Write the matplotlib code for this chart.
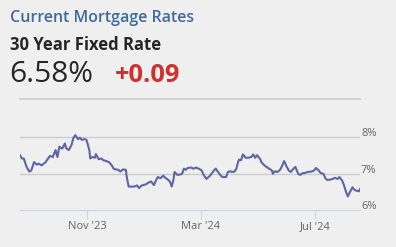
import pandas as pd
import matplotlib.pyplot as plt
from matplotlib import transforms

plt.rcParams['font.family'] = ['Open Sans', 'DejaVu Sans']

# Daily-ish readings of the 30 year fixed rate
dates = [
    '2023-08-21', '2023-08-23', '2023-08-25', '2023-08-28', '2023-08-31', '2023-09-02',
    '2023-09-05', '2023-09-08', '2023-09-10', '2023-09-13', '2023-09-17', '2023-09-20',
    '2023-09-22', '2023-09-25', '2023-09-28', '2023-09-30', '2023-10-02', '2023-10-05',
    '2023-10-08', '2023-10-09', '2023-10-12', '2023-10-15', '2023-10-17', '2023-10-19',
    '2023-10-22', '2023-10-24', '2023-10-26', '2023-10-29', '2023-10-31', '2023-11-03',
    '2023-11-04', '2023-11-06', '2023-11-09', '2023-11-10', '2023-11-13', '2023-11-16',
    '2023-11-18', '2023-11-21', '2023-11-24', '2023-11-27', '2023-11-29', '2023-12-01',
    '2023-12-04', '2023-12-06', '2023-12-09', '2023-12-12', '2023-12-13', '2023-12-15',
    '2023-12-17', '2023-12-21', '2023-12-24', '2023-12-26', '2023-12-29', '2024-01-01',
    '2024-01-03', '2024-01-06', '2024-01-08', '2024-01-11', '2024-01-13', '2024-01-15',
    '2024-01-18', '2024-01-21', '2024-01-23', '2024-01-26', '2024-01-28', '2024-01-30',
    '2024-02-01', '2024-02-02', '2024-02-05', '2024-02-08', '2024-02-10', '2024-02-12',
    '2024-02-14', '2024-02-16', '2024-02-20', '2024-02-22', '2024-02-25', '2024-02-28',
    '2024-03-02', '2024-03-04', '2024-03-07', '2024-03-11', '2024-03-15', '2024-03-17',
    '2024-03-20', '2024-03-23', '2024-03-25', '2024-03-28', '2024-03-30', '2024-04-02',
    '2024-04-03', '2024-04-06', '2024-04-08', '2024-04-10', '2024-04-11', '2024-04-13',
    '2024-04-15', '2024-04-18', '2024-04-21', '2024-04-24', '2024-04-26', '2024-04-28',
    '2024-04-30', '2024-05-03', '2024-05-05', '2024-05-08', '2024-05-10', '2024-05-13',
    '2024-05-16', '2024-05-17', '2024-05-19', '2024-05-22', '2024-05-25', '2024-05-27',
    '2024-05-29', '2024-05-31', '2024-06-03', '2024-06-05', '2024-06-08', '2024-06-10',
    '2024-06-13', '2024-06-15', '2024-06-18', '2024-06-20', '2024-06-23', '2024-06-27',
    '2024-06-30', '2024-07-02', '2024-07-05', '2024-07-07', '2024-07-10', '2024-07-12',
    '2024-07-14', '2024-07-17', '2024-07-20', '2024-07-22', '2024-07-25', '2024-07-27',
    '2024-07-30', '2024-08-01', '2024-08-03', '2024-08-05', '2024-08-07', '2024-08-09',
    '2024-08-10', '2024-08-12', '2024-08-14', '2024-08-17', '2024-08-18',
]
rates = [
    7.51, 7.42, 7.42, 7.19, 7.06, 7.09,
    7.32, 7.25, 7.28, 7.23, 7.31, 7.42,
    7.49, 7.46, 7.65, 7.46, 7.74, 7.69,
    7.83, 7.71, 7.65, 7.79, 7.98, 8.06,
    7.95, 7.99, 7.93, 7.95, 7.93, 7.65,
    7.42, 7.46, 7.44, 7.54, 7.40, 7.42,
    7.37, 7.35, 7.32, 7.23, 7.14, 7.12,
    7.11, 7.06, 7.12, 7.11, 6.91, 6.65,
    6.65, 6.65, 6.68, 6.61, 6.68, 6.70,
    6.72, 6.77, 6.79, 6.69, 6.81, 6.91,
    6.88, 6.95, 6.89, 6.84, 6.79, 6.65,
    6.86, 7.05, 6.97, 6.98, 7.00, 7.14,
    7.11, 7.16, 7.17, 7.14, 7.17, 7.14,
    7.09, 6.97, 6.86, 6.95, 7.09, 7.14,
    7.03, 6.93, 6.91, 6.91, 7.05, 7.07,
    7.05, 7.06, 7.14, 7.34, 7.39, 7.37,
    7.53, 7.44, 7.44, 7.46, 7.53, 7.44,
    7.51, 7.42, 7.31, 7.23, 7.19, 7.14,
    7.09, 7.00, 7.07, 7.05, 7.12, 7.23,
    7.35, 7.23, 7.09, 7.05, 7.14, 7.19,
    7.00, 6.97, 7.02, 7.02, 7.05, 7.06,
    7.09, 7.16, 7.09, 7.02, 7.00, 6.88,
    6.83, 6.84, 6.86, 6.89, 6.86, 6.91,
    6.81, 6.68, 6.51, 6.38, 6.49, 6.58,
    6.63, 6.56, 6.54, 6.52, 6.58,
]

tick_dates = ['2023-11-01', '2024-03-01', '2024-07-01']
tick_labels = ["Nov '23", "Mar '24", "Jul '24"]
grid_levels = [6, 7, 8]
grid_labels = ['6%', '7%', '8%']

title = 'Current Mortgage Rates'
subtitle = '30 Year Fixed Rate'
current_rate = '6.58%'
change = '+0.09'

bg = '#efefef'
W, H = 396, 247

fig = plt.figure(figsize=(W / 100, H / 100), dpi=100, facecolor=bg)


def fy(px):
    return 1 - px / H


# Header texts
fig.text(10 / W, fy(22), title, color='#3f6b9b', fontsize=11.5, fontweight='semibold', va='baseline')
fig.text(10 / W, fy(49.5), subtitle, color='#262626', fontsize=12, fontweight='bold', va='baseline')
fig.text(9 / W, fy(81.8), current_rate, color='#262626', fontsize=21.5, va='baseline')
fig.text(115 / W, fy(81.8), change, color='#d0302f', fontsize=18.3, fontweight='bold', va='baseline')

# Separator line under the header
fig.add_artist(plt.Line2D([20 / W, 360 / W], [fy(99.3), fy(99.3)], color='#cccccc', lw=1.2))

# Chart area: 6% at y=210.3 px, 36.5 px per percent
y_bot, px_per = 210.3, 36.5
ymin, ymax = 6.0, 8.25
ax_h = (ymax - ymin) * px_per
ax = fig.add_axes([20 / W, (H - y_bot) / H, 340 / W, ax_h / H])
ax.set_facecolor('none')

x = pd.to_datetime(dates)
ax.plot(x, rates, color='#5b66a6', lw=1.5, solid_joinstyle='round', zorder=3)

ax.set_ylim(ymin, ymax)
ax.set_xlim(pd.Timestamp('2023-08-21'), pd.Timestamp('2024-08-18'))

for lvl in grid_levels[1:]:
    ax.axhline(lvl, color='#cccccc', lw=1, zorder=1)

# Right-side y labels sitting on the grid lines
trans = transforms.blended_transform_factory(ax.transAxes, ax.transData)
for lvl, lab in zip(grid_levels, grid_labels):
    ax.text(1.0 + 1 / 340, lvl + 0.025, lab, transform=trans, ha='left', va='baseline',
            fontsize=8, color='#666666')

ax.set_yticks([])
for side in ['left', 'right', 'top']:
    ax.spines[side].set_visible(False)
ax.spines['bottom'].set_color('#ccd6eb')
ax.spines['bottom'].set_linewidth(1)

ax.set_xticks(pd.to_datetime(tick_dates))
ax.set_xticklabels(tick_labels)
ax.tick_params(axis='x', length=6.5, width=0.8, color='#ccd6eb', labelcolor='#666666',
               labelsize=8, pad=1)

fig.savefig('out.png', dpi=100, facecolor=bg)
